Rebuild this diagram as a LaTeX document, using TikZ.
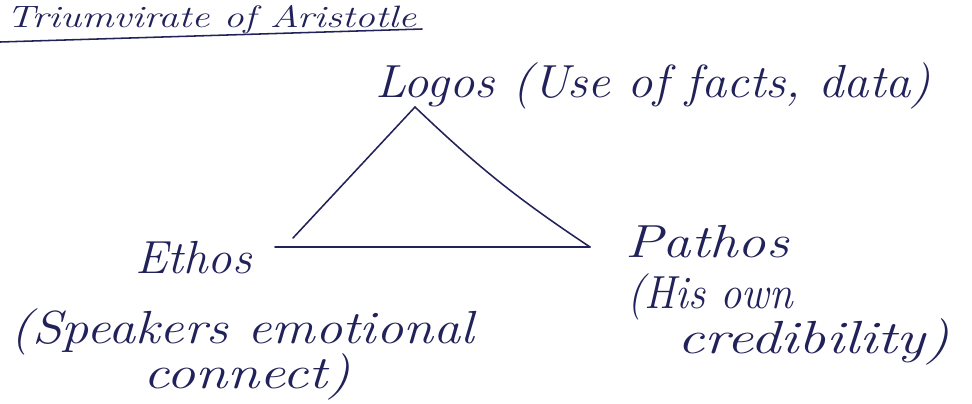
\documentclass[tikz,border=0pt]{standalone}
\usepackage{tikz}
\usetikzlibrary{positioning}
\definecolor{inkB}{HTML}{22225A}
\tikzset{
	% handwritten words, #1 = horizontal stretch
	note/.style={font=\itshape\fontsize{33}{38}\selectfont, text=inkB, inner sep=0pt, anchor=base west, xscale=#1, transform shape},
	note/.default=1,
	heading/.style={font=\itshape\fontsize{22}{26}\selectfont, text=inkB, inner sep=0pt, anchor=base west, xscale=1.3, transform shape},
	% pen strokes
	stroke/.style={draw=inkB, line width=1.1pt, line cap=round},
}

\begin{document}
\begin{tikzpicture}[x=0.025cm, y=-0.025cm]
	\useasboundingbox (0,0) rectangle (972,403);
	% heading
	\node[heading] (title) at (6,27) {Triumvirate of Aristotle};
	\coordinate (ruleL) at (0,42);
	\coordinate (ruleR) at (422,29);
	\draw[stroke] (ruleL) -- (ruleR);
	% the three appeals
	\node[note=1.09] (logos) at (375,97) {Logos (Use of facts, data)};
	\node[note=1.05] (ethos) at (135,273) {Ethos};
	\node[note=1.17] (ethosA) at (10,343) {(Speakers emotional};
	\node[note=1.25] (ethosB) at (143,388) {connect)};
	\node[note=1.22] (pathos) at (625,257) {Pathos};
	\node[note=0.92] (pathosA) at (627,308) {(His own};
	\node[note=1.3] (pathosB) at (677,353) {credibility)};
	% triangle
	\coordinate (apex) at (415,107);
	\coordinate (leftpt) at (293,238);
	\coordinate (baseL) at (275,247);
	\coordinate (rightpt) at (590,247);
	\draw[stroke] (apex) -- (leftpt);
	\draw[stroke] (apex) to[bend right=5] (rightpt);
	\draw[stroke] (baseL) -- (rightpt);
\end{tikzpicture}
\end{document}
